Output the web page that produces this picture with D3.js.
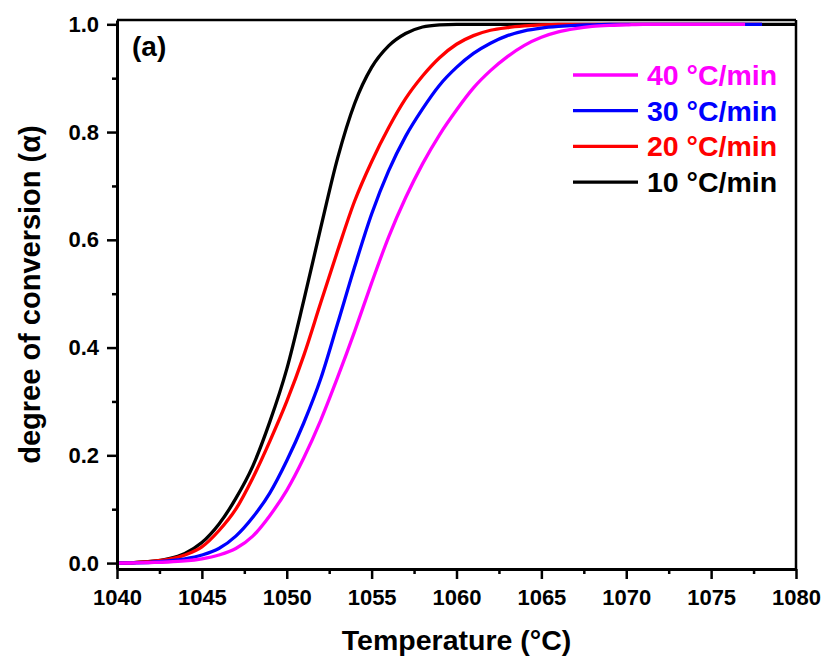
<!DOCTYPE html>
<html>
<head>
<meta charset="utf-8">
<script src="https://cdn.jsdelivr.net/npm/d3@7"></script>
<style>
  html, body { margin: 0; padding: 0; background: #fff; }
  svg { display: block; }
  text { font-family: "Liberation Sans", Arial, Helvetica, sans-serif; font-weight: bold; }
</style>
</head>
<body>
<svg id="chart" width="824" height="657"></svg>
<script>
// Temperature grid (°C), one reading per degree
const temps = d3.range(1040, 1081, 1);

// Degree of conversion at each heating rate (starting at 1040 °C)
const alpha10 = [0, 0.001, 0.003, 0.008, 0.018, 0.038, 0.072, 0.12, 0.18, 0.262,
  0.36, 0.487, 0.622, 0.752, 0.853, 0.92, 0.96, 0.983, 0.995, 0.999,
  1.0, 1.0, 1.0, 1.0, 1.0, 1.0, 1.0, 1.0, 1.0, 1.0,
  1.0, 1.0, 1.0, 1.0, 1.0, 1.0, 1.0, 1.0, 1.0, 1.0, 1.0];
const alpha20 = [0, 0.001, 0.003, 0.007, 0.015, 0.03, 0.06, 0.1, 0.158, 0.226,
  0.3, 0.385, 0.483, 0.58, 0.672, 0.745, 0.808, 0.862, 0.904, 0.938,
  0.963, 0.979, 0.989, 0.994, 0.997, 0.999, 1.0, 1.0, 1.0, 1.0,
  1.0, 1.0, 1.0, 1.0, 1.0, 1.0, 1.0, 1.0, 1.0];
const alpha30 = [0, 0.0005, 0.0015, 0.004, 0.008, 0.015, 0.027, 0.05, 0.085, 0.13,
  0.19, 0.26, 0.342, 0.445, 0.55, 0.648, 0.728, 0.792, 0.843, 0.887,
  0.92, 0.946, 0.965, 0.979, 0.988, 0.993, 0.996, 0.998, 0.999, 1.0,
  1.0, 1.0, 1.0, 1.0, 1.0, 1.0, 1.0, 1.0, 1.0];
const alpha40 = [0, 0.0003, 0.001, 0.002, 0.004, 0.008, 0.015, 0.027, 0.05, 0.088,
  0.135, 0.195, 0.265, 0.345, 0.43, 0.52, 0.605, 0.678, 0.741, 0.795,
  0.841, 0.882, 0.914, 0.94, 0.961, 0.976, 0.986, 0.992, 0.996, 0.998,
  0.999, 1.0, 1.0, 1.0, 1.0, 1.0, 1.0, 1.0];

// Series labels and colours, drawn bottom-to-top in this order
const seriesNames = ["10 °C/min", "20 °C/min", "30 °C/min", "40 °C/min"];
const seriesColors = ["#000000", "#ff0000", "#0000ff", "#ff00ff"];
const seriesValues = [alpha10, alpha20, alpha30, alpha40];

// Legend lists the fastest rate first
const legendOrder = [3, 2, 1, 0];

// Axis ticks
const xTicks = [1040, 1045, 1050, 1055, 1060, 1065, 1070, 1075, 1080];
const xMinorTicks = [1042.5, 1047.5, 1052.5, 1057.5, 1062.5, 1067.5, 1072.5, 1077.5];
const yTicks = [0, 0.2, 0.4, 0.6, 0.8, 1.0];
const yMinorTicks = [0.1, 0.3, 0.5, 0.7, 0.9];

const svg = d3.select("#chart");
const plot = { left: 117, right: 796, top: 20, bottom: 569 };

const x = d3.scaleLinear().domain([1040, 1080]).range([plot.left, plot.right]);
const y = d3.scaleLinear().domain([-0.011, 1.008]).range([plot.bottom, plot.top]);

// Curves
const line = d3.line()
  .x(d => x(d[0]))
  .y(d => y(d[1]))
  .curve(d3.curveMonotoneX);

seriesValues.forEach((vals, i) => {
  const pts = vals.map((v, j) => [temps[j], v]);
  svg.append("path")
    .datum(pts)
    .attr("d", line)
    .attr("fill", "none")
    .attr("stroke", seriesColors[i])
    .attr("stroke-width", 3.3)
    .attr("stroke-linejoin", "round");
});

// Frame (top and right)
svg.append("line").attr("x1", plot.left).attr("x2", plot.right).attr("y1", plot.top).attr("y2", plot.top)
  .attr("stroke", "#000").attr("stroke-width", 2.5);
svg.append("line").attr("x1", plot.right).attr("x2", plot.right).attr("y1", plot.top).attr("y2", plot.bottom)
  .attr("stroke", "#000").attr("stroke-width", 2.5);

function styleAxis(g) {
  g.select(".domain").attr("stroke", "#000").attr("stroke-width", 3);
  g.selectAll(".tick line").attr("stroke", "#000").attr("stroke-width", 2.5);
  g.selectAll(".tick text")
    .attr("fill", "#000")
    .style("font-size", "22px")
    .style("font-family", "'Liberation Sans', Arial, sans-serif")
    .style("font-weight", "bold");
}

// Bottom axis
const gx = svg.append("g").attr("transform", `translate(0,${plot.bottom})`)
  .call(d3.axisBottom(x).tickValues(xTicks).tickFormat(d3.format("d"))
    .tickSize(10).tickSizeOuter(0).tickPadding(10));
styleAxis(gx);
const gxm = svg.append("g").attr("transform", `translate(0,${plot.bottom})`)
  .call(d3.axisBottom(x).tickValues(xMinorTicks).tickFormat("").tickSize(5).tickSizeOuter(0));
gxm.select(".domain").remove();
gxm.selectAll(".tick line").attr("stroke", "#000").attr("stroke-width", 2.5);

// Left axis
const gy = svg.append("g").attr("transform", `translate(${plot.left},0)`)
  .call(d3.axisLeft(y).tickValues(yTicks).tickFormat(d3.format(".1f"))
    .tickSize(10).tickSizeOuter(0).tickPadding(8));
styleAxis(gy);
const gym = svg.append("g").attr("transform", `translate(${plot.left},0)`)
  .call(d3.axisLeft(y).tickValues(yMinorTicks).tickFormat("").tickSize(5).tickSizeOuter(0));
gym.select(".domain").remove();
gym.selectAll(".tick line").attr("stroke", "#000").attr("stroke-width", 2.5);

// Axis titles
svg.append("text")
  .attr("x", (plot.left + plot.right) / 2).attr("y", 650)
  .attr("text-anchor", "middle")
  .style("font-size", "28.5px")
  .text("Temperature (°C)");

svg.append("text")
  .attr("transform", `translate(40,${(plot.top + plot.bottom) / 2}) rotate(-90)`)
  .attr("text-anchor", "middle")
  .style("font-size", "29px")
  .text("degree of conversion (α)");

// Panel tag
svg.append("text")
  .attr("x", 132).attr("y", 56)
  .style("font-size", "28px")
  .text("(a)");

// Legend
const legendY0 = 75, legendStep = 35.7;
legendOrder.forEach((si, k) => {
  const ly = legendY0 + k * legendStep;
  svg.append("line")
    .attr("x1", 573).attr("x2", 638).attr("y1", ly).attr("y2", ly)
    .attr("stroke", seriesColors[si]).attr("stroke-width", 3.3);
  svg.append("text")
    .attr("x", 647).attr("y", ly + 10)
    .attr("fill", seriesColors[si])
    .style("font-size", "28.5px")
    .text(seriesNames[si]);
});
</script>
</body>
</html>
